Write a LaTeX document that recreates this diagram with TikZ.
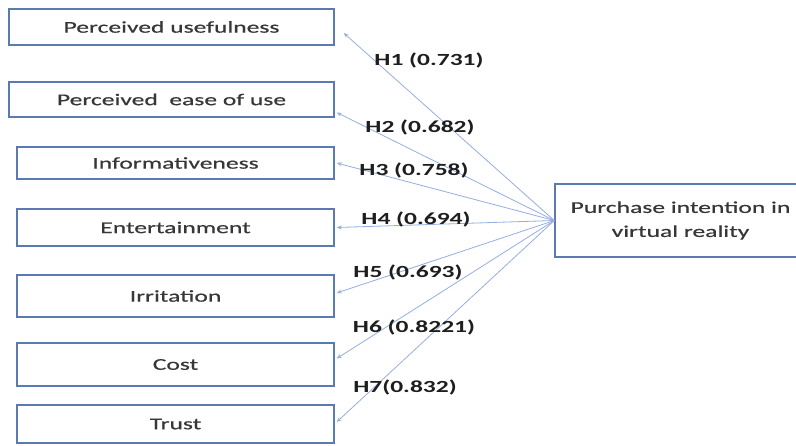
\documentclass[tikz,border=0pt]{standalone}
\usepackage{fontspec}
\setmainfont{Carlito}
\newfontfamily\boxfont[FakeStretch=1.55,FakeBold=0.5]{Carlito}
\newfontfamily\labfont[FakeStretch=1.5]{Carlito}
\usetikzlibrary{arrows.meta}
\definecolor{boxline}{RGB}{92,122,178}
\definecolor{conn}{RGB}{150,175,222}
\definecolor{boxtext}{RGB}{55,55,55}
\definecolor{labtext}{RGB}{30,30,30}
\begin{document}
\begin{tikzpicture}[x=1pt,y=-1pt,
  varbox/.style={draw=boxline,line width=1.4pt,fill=white,inner sep=0pt,
    font=\boxfont\fontsize{16.5}{24}\selectfont,text=boxtext,align=center},
  hlab/.style={font=\labfont\bfseries\fontsize{17}{20}\selectfont,text=labtext,inner sep=0pt},
  conline/.style={draw=conn,line width=0.8pt,-{Stealth[length=5pt,width=4pt]}}]
\useasboundingbox (0,0) rectangle (796,445);
\fill[white] (0,0) rectangle (796,445);
\node[varbox,minimum width=251pt,minimum height=73pt] (pi) at (680.5,220.5) {Purchase intention in\\virtual reality};
\node[varbox,minimum width=325pt,minimum height=36pt] (b1) at (171.5,27) {Perceived usefulness};
\node[varbox,minimum width=325pt,minimum height=35pt] (b2) at (171.5,99.5) {Perceived\ \ ease of use};
\node[varbox,minimum width=317pt,minimum height=32pt] (b3) at (175.5,163) {Informativeness};
\node[varbox,minimum width=317pt,minimum height=37pt] (b4) at (175.5,227.5) {Entertainment};
\node[varbox,minimum width=317pt,minimum height=42pt] (b5) at (175.5,296) {Irritation};
\node[varbox,minimum width=317pt,minimum height=43pt] (b6) at (175.5,364.5) {Cost};
\node[varbox,minimum width=317pt,minimum height=38pt] (b7) at (175.5,424) {Trust};
\draw[conline] (pi.west) -- ([xshift=9pt,yshift=-6pt]b1.east);
\draw[conline] (pi.west) -- ([xshift=2pt,yshift=-13pt]b2.east);
\draw[conline] (pi.west) -- ([xshift=2pt]b3.east);
\draw[conline] (pi.west) -- ([xshift=2pt]b4.east);
\draw[conline] (pi.west) -- ([xshift=2pt,yshift=3pt]b5.east);
\draw[conline] (pi.west) -- ([xshift=2pt,yshift=6pt]b6.east);
\draw[conline] (pi.west) -- ([xshift=2pt,yshift=2pt]b7.east);
\node[hlab] (l1) at (429,60) {H1 (0.731)};
\node[hlab] (l2) at (420,127) {H2 (0.682)};
\node[hlab] (l3) at (414,170) {H3 (0.758)};
\node[hlab] (l4) at (416,219) {H4 (0.694)};
\node[hlab] (l5) at (408,272) {H5 (0.693)};
\node[hlab] (l6) at (414,327) {H6 (0.8221)};
\node[hlab] (l7) at (405,387) {H7(0.832)};
\end{tikzpicture}
\end{document}
